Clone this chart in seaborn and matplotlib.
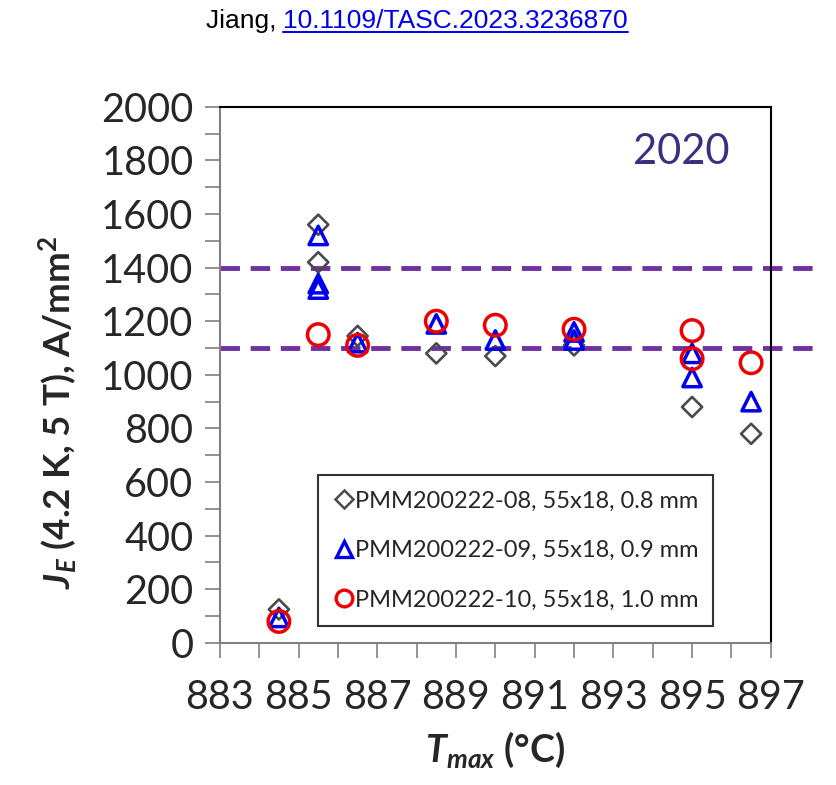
import matplotlib
matplotlib.use("Agg")
import matplotlib.pyplot as plt
import seaborn as sns
import pandas as pd
from matplotlib.ticker import MultipleLocator, FixedLocator
from matplotlib.lines import Line2D

sns.set_style("white")
plt.rcParams['font.family'] = ['Lato', 'DejaVu Sans']
plt.rcParams['mathtext.fontset'] = 'custom'
plt.rcParams['mathtext.it'] = 'Lato:italic'
plt.rcParams['mathtext.bf'] = 'Lato:bold'
plt.rcParams['mathtext.bfit'] = 'Lato:bold:italic'
plt.rcParams['mathtext.rm'] = 'Lato'

# Data
t08 = [884.5, 885.5, 885.5, 886.5, 888.5, 890.0, 892.0, 895.0, 896.5]
j08 = [125, 1560, 1420, 1145, 1080, 1070, 1110, 880, 780]
t09 = [884.5, 885.5, 885.5, 885.5, 886.5, 888.5, 890.0, 892.0, 892.0, 895.0, 895.0, 896.5]
j09 = [95, 1520, 1340, 1320, 1120, 1190, 1130, 1160, 1130, 1080, 990, 900]
t10 = [884.5, 885.5, 886.5, 888.5, 890.0, 892.0, 895.0, 895.0, 896.5]
j10 = [80, 1150, 1110, 1200, 1185, 1170, 1165, 1060, 1045]
labels = ["PMM200222-08, 55x18, 0.8 mm",
          "PMM200222-09, 55x18, 0.9 mm",
          "PMM200222-10, 55x18, 1.0 mm"]
xticks = [883, 885, 887, 889, 891, 893, 895, 897]
ref_lines = [1400, 1100]
year_label = "2020"

fig = plt.figure(figsize=(8.36, 7.85), dpi=100)
ax = fig.add_axes([0.263, 0.181, 0.659, 0.683])

series = [(t08, j08, 'D', '#4a4a4a', 105, 1.9, labels[0]),
          (t09, j09, '^', '#0000ee', 175, 2.5, labels[1]),
          (t10, j10, 'o', '#ee0000', 240, 2.5, labels[2])]
for t, j, m, c, s, lw, lab in series:
    df = pd.DataFrame({"T": t, "J": j})
    sns.scatterplot(data=df, x="T", y="J", ax=ax, marker=m, s=s,
                    facecolors='none', edgecolors=c, linewidths=lw,
                    legend=False, zorder=3)

for y in ref_lines:
    ax.plot([883, 898.2], [y, y], color='#7030a0', lw=3.5, ls=(0, (4, 2.2)),
            clip_on=False, zorder=2)

ax.set_xlim(883, 897)
ax.set_ylim(0, 2000)
ax.xaxis.set_major_locator(FixedLocator(xticks))
ax.xaxis.set_minor_locator(MultipleLocator(1))
ax.yaxis.set_major_locator(MultipleLocator(200))
ax.yaxis.set_minor_locator(MultipleLocator(100))
ax.tick_params(axis='both', which='both', direction='out', length=11, width=1.2,
               color='#808080', labelsize=28.5)
ax.tick_params(axis='x', pad=15)
ax.tick_params(axis='y', pad=8)
ax.tick_params(bottom=True, left=True, which='both')
for sp in ['left', 'bottom']:
    ax.spines[sp].set_color('#808080')
    ax.spines[sp].set_linewidth(1.5)
for sp in ['top', 'right']:
    ax.spines[sp].set_color('black')
    ax.spines[sp].set_linewidth(1.5)

ax.set_xlabel(r"$\bfit{T}_{\bfit{max}}$ (°C)", fontsize=27, fontweight='bold', labelpad=10)
ax.set_ylabel(r"$\bfit{J}_{\bfit{E}}$ (4.2 K, 5 T), A/mm$^\mathbf{2}$", fontsize=26.5,
              fontweight='bold')
ax.yaxis.set_label_coords(-0.255, 0.43)

ax.text(0.925, 0.915, year_label, transform=ax.transAxes, fontsize=30,
        color='#3b2f80', ha='right', va='center')

handles = [Line2D([], [], ls='none', marker='D', ms=9, mfc='none', mec='#4a4a4a', mew=1.8),
           Line2D([], [], ls='none', marker='^', ms=11, mfc='none', mec='#0000ee', mew=2.4),
           Line2D([], [], ls='none', marker='o', ms=12, mfc='none', mec='#ee0000', mew=2.4)]
leg = ax.legend(handles, labels, loc='lower left', bbox_to_anchor=(0.178, 0.032),
                frameon=True, fancybox=False, edgecolor='black', fontsize=17,
                handletextpad=0.0, handlelength=0.9, labelspacing=1.2,
                borderpad=0.65, borderaxespad=0)
leg.get_frame().set_linewidth(1.5)

fig.text(0.339, 0.973, "Jiang, ", ha='right', va='center', fontsize=19,
         family='Liberation Sans', color='black')
t2 = fig.text(0.339, 0.973, "10.1109/TASC.2023.3236870", ha='left', va='center',
              fontsize=19, family='Liberation Sans', color='#0000ee')
fig.canvas.draw()
bb = t2.get_window_extent().transformed(fig.transFigure.inverted())
fig.add_artist(Line2D([bb.x0, bb.x1], [bb.y0 + 0.001, bb.y0 + 0.001],
                      transform=fig.transFigure, color='#0000ee', lw=1.4))

fig.savefig("out.png", dpi=100)
